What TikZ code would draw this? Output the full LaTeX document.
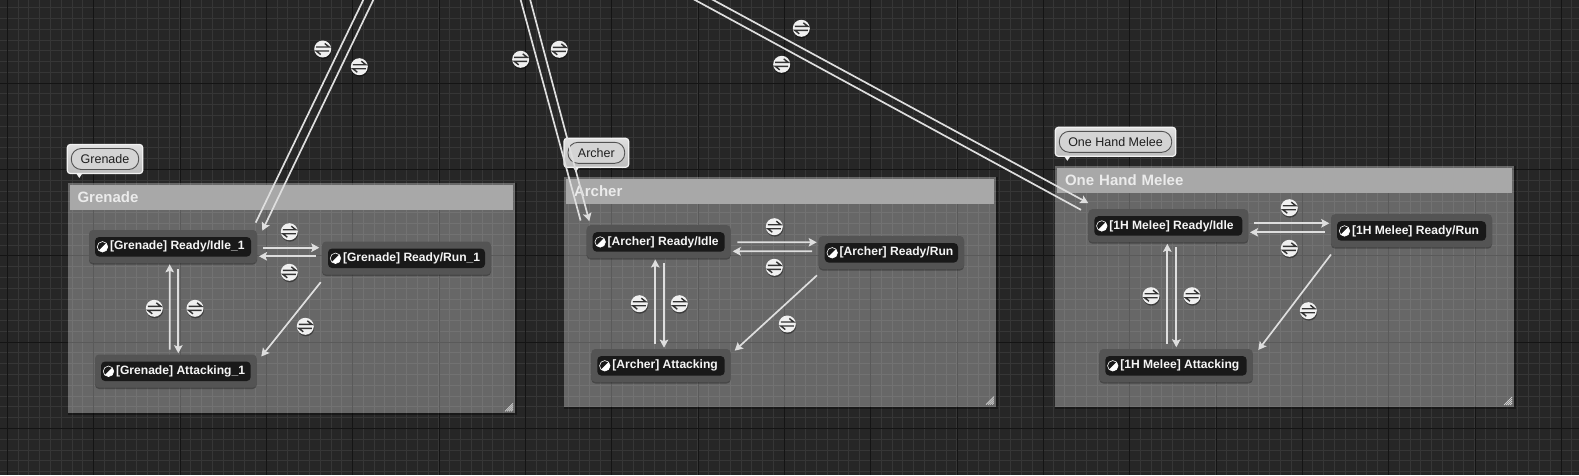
\documentclass[tikz,border=0pt]{standalone}
\usepackage{fontspec}
\setmainfont{Liberation Sans}
\usetikzlibrary{arrows.meta,shadows}

\definecolor{graphbg}{HTML}{262626}
\definecolor{gridminor}{HTML}{363636}
\definecolor{gridmajor}{HTML}{141414}
\definecolor{wirecol}{HTML}{DEDEDE}

\tikzset{
  gridfine/.style={gridminor, line width=1pt},
  gridbold/.style={gridmajor, line width=1pt},
  groupbox/.style={rectangle, inner sep=0pt, outer sep=0pt, fill=white, fill opacity=0.3, anchor=north west},
  groupedge/.style={black, opacity=0.35, line width=2pt},
  grouphead/.style={rectangle, inner sep=0pt, inner xsep=8pt, outer sep=0pt, fill=black!34, text=black!8, anchor=north west, align=left, minimum height=25pt, font=\fontsize{15}{17}\selectfont\bfseries},
  hatchline/.style={white!85!black, line width=0.7pt},
  tagbubble/.style={rectangle, rounded corners=3pt, inner sep=0pt, outer sep=0pt, top color=black!12, bottom color=black!26, draw=black!5, line width=1.2pt, minimum height=29pt},
  tagpill/.style={rectangle, rounded corners=10pt, inner sep=0pt, outer sep=0pt, fill=black!17, draw=black!68, line width=0.9pt, minimum height=21pt, text=black!88, font=\fontsize{12.5}{15}\selectfont},
  stateouter/.style={rectangle, rounded corners=4pt, inner sep=0pt, outer sep=0pt, fill=black!67, minimum height=33pt, drop shadow={shadow xshift=0pt, shadow yshift=-1.5pt, opacity=0.3, fill=black}},
  stateinner/.style={rectangle, rounded corners=4pt, inner sep=0pt, outer sep=0pt, fill=black!90, minimum height=19.5pt},
  statetext/.style={inner sep=0pt, outer sep=0pt, anchor=west, text=black!4, font=\fontsize{12.1}{14}\selectfont\bfseries},
  stateicon/.style={circle, inner sep=0pt, outer sep=0pt, minimum size=10.5pt, fill=black!90, draw=white, line width=0.6pt,
    path picture={\fill[white] (path picture bounding box.north east) -- (path picture bounding box.south east) -- (path picture bounding box.south west) -- cycle;}},
  wire/.style={wirecol, line width=1.7pt},
  wirearrow/.style={wire, -{Stealth[length=8pt, width=8.5pt, inset=1.5pt]}},
  transicon/.style={circle, inner sep=0pt, outer sep=0pt, minimum size=17pt, fill=black!6, drop shadow={shadow xshift=0.5pt, shadow yshift=-1.5pt, opacity=0.4, fill=black},
    path picture={
      \draw[black!80, line width=1.4pt] ([shift={(-6.5,-2)}]path picture bounding box.center) -- ++(13,0) -- ++(-4.5,-3.5);
      \draw[black!80, line width=1.4pt] ([shift={(6.5,2)}]path picture bounding box.center) -- ++(-13,0) -- ++(4.5,3.5);
    }},
}

% name, x, y, width, height, title
\newcommand{\stategroup}[6]{
  \node[groupbox, minimum width=#4pt, minimum height=#5pt] (#1Box) at (#2,#3) {};
  \draw[groupedge] ([shift={(1,0)}]#1Box.north east) -- ([shift={(1,1)}]#1Box.south east) -- ([shift={(0,1)}]#1Box.south west);
  \node[grouphead, text width={#4pt-20pt}] (#1Head) at ([shift={(2,2)}]#1Box.north west) {#6};
  \foreach \n in {2,4,6,8}
    \draw[hatchline] ([shift={(-2-\n,-2)}]#1Box.south east) -- ([shift={(-2,-2-\n)}]#1Box.south east);
}
% name, x, y, width, text
\newcommand{\tagnote}[5]{
  \node[tagbubble, minimum width=#4pt] (#1Tag) at (#2,#3) {};
  \fill[black!5] ([shift={(9,0)}]#1Tag.south west) -- ++(6,0) -- ++(-3,4.5) -- cycle;
  \node[tagpill, minimum width={#4pt-8pt}] (#1Pill) at (#1Tag) {#5};
}
% name, x, y, width, text
\newcommand{\statenode}[5]{
  \node[stateouter, minimum width=#4pt] (#1) at (#2,#3) {};
  \node[stateinner, minimum width={#4pt-12pt}] (#1In) at (#2,#3+0.3) {};
  \node[stateicon] (#1Icon) at ([xshift=7.5pt]#1In.west) {};
  \node[statetext] (#1Text) at ([xshift=15pt]#1In.west) {#5};
}

\begin{document}
\begin{tikzpicture}[x=1pt, y=-1pt]
\useasboundingbox (0,0) rectangle (1579,475);
\clip (0,0) rectangle (1579,475);
\fill[graphbg] (0,0) rectangle (1579,475);

% Grid
\foreach \i in {0,...,145}
  \draw[gridfine] ({7.3+\i*10.79},0) -- ({7.3+\i*10.79},475);
\foreach \i in {0,...,43}
  \draw[gridfine] (0,{7.67+\i*10.79}) -- (1579,{7.67+\i*10.79});
\foreach \i in {0,...,18}
  \draw[gridbold] ({7.3+\i*86.35},0) -- ({7.3+\i*86.35},475);
\foreach \i in {0,...,4}
  \draw[gridbold] (0,{83.2+\i*86.35}) -- (1579,{83.2+\i*86.35});

% Groups
\stategroup{gr}{67.5}{182.5}{447.5}{230.8}{Grenade}
\stategroup{ar}{564}{177}{432}{229.7}{Archer}
\stategroup{ml}{1055}{166}{459}{241}{One Hand Melee}

\tagnote{gr}{105}{159}{75.4}{Grenade}
\tagnote{ar}{596.35}{152.8}{64.7}{Archer}
\tagnote{ml}{1115.5}{141.8}{120.4}{One Hand Melee}

% States
\statenode{grIdle}{173}{246.5}{168}{[Grenade] Ready/Idle\_1}
\statenode{grRun}{406.5}{258}{169}{[Grenade] Ready/Run\_1}
\statenode{grAtt}{175.85}{371}{161.7}{[Grenade] Attacking\_1}

\statenode{arIdle}{658.7}{241.65}{144}{[Archer] Ready/Idle}
\statenode{arRun}{891.35}{252.5}{145.3}{[Archer] Ready/Run}
\statenode{arAtt}{661}{365.5}{139.4}{[Archer] Attacking}

\statenode{mlIdle}{1168.3}{225.65}{160}{[1H Melee] Ready/Idle}
\statenode{mlRun}{1411.5}{230.65}{161}{[1H Melee] Ready/Run}
\statenode{mlAtt}{1176}{365.5}{153.4}{[1H Melee] Attacking}

% Wires coming from above
\coordinate (grOutA) at (365.2,-4);
\coordinate (grOutB) at (375.2,-4);
\coordinate (arOutA) at (519.6,-4);
\coordinate (arOutB) at (529.2,-4);
\coordinate (mlOutA) at (687.7,-4);
\coordinate (mlOutB) at (705.9,-4);

\draw[wire] (grOutA) -- ([shift={(-1.3,-7.3)}]grIdle.north east);
\draw[wirearrow] (grOutB) -- ([shift={(5.3,0.7)}]grIdle.north east);
\draw[wire] (arOutA) -- ([shift={(-6.1,-4.6)}]arIdle.north west);
\draw[wirearrow] (arOutB) -- ([shift={(2.6,-4)}]arIdle.north west);
\draw[wire] (mlOutA) -- ([shift={(-7.3,0.7)}]mlIdle.north west);
\draw[wirearrow] (mlOutB) -- ([shift={(0,-6)}]mlIdle.north west);

% Grenade wires
\draw[wirearrow] ([shift={(6.3,1.2)}]grIdle.east) -- ([shift={(-2.7,-10.3)}]grRun.west);
\draw[wirearrow] ([shift={(-6,-1.7)}]grRun.west) -- ([shift={(2,9.8)}]grIdle.east);
\draw[wirearrow] ([shift={(5.3,6)}]grIdle.south) -- ([shift={(2.45,-1.3)}]grAtt.north);
\draw[wirearrow] ([shift={(-6.15,-5)}]grAtt.north) -- ([shift={(-3.3,1.3)}]grIdle.south);
\draw[wirearrow] ([shift={(-1.3,7.7)}]grRun.south west) -- ([shift={(4.6,2)}]grAtt.north east);

% Archer wires
\draw[wirearrow] ([shift={(6.6,0.65)}]arIdle.east) -- ([shift={(-2,-10.2)}]arRun.west);
\draw[wirearrow] ([shift={(-6.7,-1.2)}]arRun.west) -- ([shift={(2,9.65)}]arIdle.east);
\draw[wirearrow] ([shift={(5.3,5.3)}]arIdle.south) -- ([shift={(3,-1.3)}]arAtt.north);
\draw[wirearrow] ([shift={(-5.7,-5)}]arAtt.north) -- ([shift={(-3.4,1.3)}]arIdle.south);
\draw[wirearrow] ([shift={(-1.7,6.3)}]arRun.south west) -- ([shift={(4,1.7)}]arAtt.north east);

% Melee wires
\draw[wirearrow] ([shift={(5.7,-2.35)}]mlIdle.east) -- ([shift={(-1.7,-7.35)}]mlRun.west);
\draw[wirearrow] ([shift={(-6,1.65)}]mlRun.west) -- ([shift={(1.7,6.65)}]mlIdle.east);
\draw[wirearrow] ([shift={(8,5)}]mlIdle.south) -- ([shift={(0.3,-1.7)}]mlAtt.north);
\draw[wirearrow] ([shift={(-8.7,-5.3)}]mlAtt.north) -- ([shift={(-1,1.7)}]mlIdle.south);
\draw[wirearrow] ([shift={(0,7.3)}]mlRun.south west) -- ([shift={(5.6,1)}]mlAtt.north east);

% Transition icons
\foreach \nm/\x/\y in {t1/322.7/49, t2/359.3/66.7, t3/520.7/59.3, t4/559.3/49.3, t5/801.3/28.3, t6/781.7/64.3,
  t7/289.3/231.7, t8/289.3/272.3, t9/154.3/308.3, t10/195/308.3, t11/305.3/326.3,
  t12/774.3/226.7, t13/774.3/267.3, t14/639.3/303.7, t15/679.3/303.7, t16/787.3/324,
  t17/1289.3/207.7, t18/1289.3/248.3, t19/1151/295.7, t20/1192/295.7, t21/1308.3/310.7}
  \node[transicon] (\nm) at (\x,\y) {};
\end{tikzpicture}
\end{document}
